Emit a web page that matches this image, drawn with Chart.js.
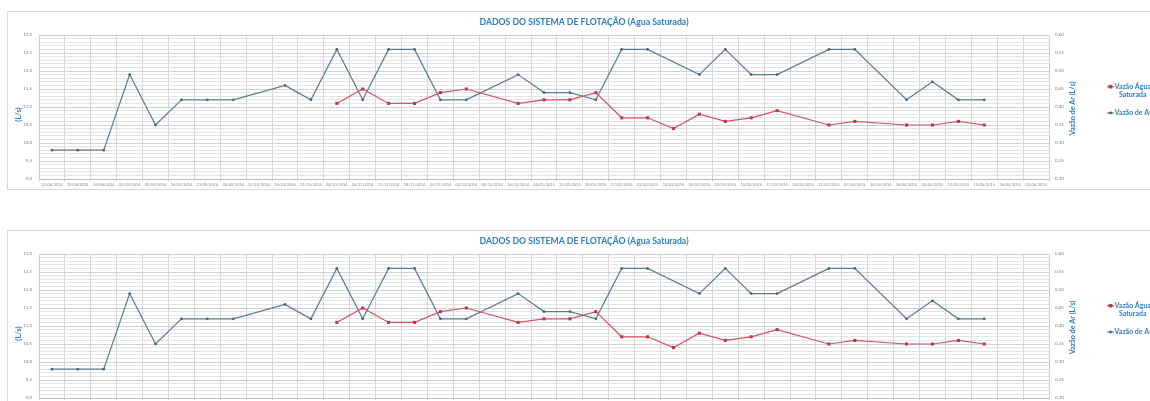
<!DOCTYPE html>
<html>
<head>
<meta charset="utf-8">
<script src="https://cdn.jsdelivr.net/npm/chart.js@4.4.1/dist/chart.umd.min.js"></script>
<style>
  html, body { margin: 0; padding: 0; background: #ffffff; overflow: hidden; width: 1150px; height: 401px; }
  .box { position: absolute; left: 7px; width: 1152px; height: 177px; border: 1px solid #d9d9d9; background: #fff; }
  .box canvas { display: block; }
</style>
</head>
<body>
<div class="box" style="top:11px"><canvas id="c1" width="1152" height="177"></canvas></div>
<div class="box" style="top:230px"><canvas id="c2" width="1152" height="177"></canvas></div>
<script>
// Collection dates (x axis)
const datas = [
  "12/08/2014","19/08/2014","26/08/2014","02/09/2014","09/09/2014","16/09/2014","23/09/2014","30/09/2014",
  "07/10/2014","14/10/2014","21/10/2014","28/10/2014","04/11/2014","11/11/2014","18/11/2014","25/11/2014",
  "02/12/2014","09/12/2014","16/12/2014","06/01/2015","13/01/2015","20/01/2015","27/01/2015","03/02/2015",
  "10/02/2015","24/02/2015","03/03/2015","10/03/2015","17/03/2015","24/03/2015","31/03/2015","07/04/2015",
  "14/04/2015","28/04/2015","05/05/2015","12/05/2015","19/05/2015","26/05/2015","02/06/2015"
];

// Saturated water flow (L/s) - left axis
const vazaoAgua = [
  null, null, null, null, null, null, null, null, null, null, null,
  11.1, 11.5, 11.1, 11.1, 11.4, 11.5, null, 11.1, 11.2, 11.2, 11.4,
  10.7, 10.7, 10.4, 10.8, 10.6, 10.7, 10.9, null, 10.5, 10.6, null,
  10.5, 10.5, 10.6, 10.5, null, null
];

// Air flow (L/s) - right axis
const vazaoAr = [
  0.28, 0.28, 0.28, 0.49, 0.35, 0.42, 0.42, 0.42, null, 0.46, 0.42,
  0.56, 0.42, 0.56, 0.56, 0.42, 0.42, null, 0.49, 0.44, 0.44, 0.42,
  0.56, 0.56, null, 0.49, 0.56, 0.49, 0.49, null, 0.56, 0.56, null,
  0.42, 0.47, 0.42, 0.42, null, null
];

const titulo = "DADOS DO SISTEMA DE FLOTAÇÃO (Agua Saturada)";
const tituloEixoEsq = "(L/s)";
const tituloEixoDir = "Vazão de Ar (L/s)";
const nomeAgua = ["Vazão Água", "Saturada"];
const nomeAr = "Vazão de Ar";

const AZUL_TEXTO = "#2f7cc0";
const COR_AGUA = "#d2546a";
const MARCA_AGUA = "#b53a52";
const COR_AR = "#5a7d92";
const MARCA_AR = "#4a6478";
const FONTE = "Lato, 'Open Sans', sans-serif";

const virgula = (v, d) => v.toFixed(d).replace(".", ",");

// axis titles and legend drawn on the canvas
const decoracao = {
  id: "decoracao",
  afterDraw(chart) {
    const { ctx, chartArea: a } = chart;
    ctx.save();
    ctx.fillStyle = AZUL_TEXTO;
    ctx.textAlign = "center";
    ctx.textBaseline = "middle";

    ctx.font = "bold 7.5px " + FONTE;
    ctx.save();
    ctx.translate(a.left - 20, (a.top + a.bottom) / 2 + 7.5);
    ctx.rotate(-Math.PI / 2);
    ctx.fillText(tituloEixoEsq, 0, 0);
    ctx.restore();

    ctx.font = "bold 7.2px " + FONTE;
    ctx.save();
    ctx.translate(a.right + 23.5, (a.top + a.bottom) / 2 + 1.5);
    ctx.rotate(-Math.PI / 2);
    ctx.fillText(tituloEixoDir, 0, 0);
    ctx.restore();

    // legend
    const lx = a.right + 58;
    const y1 = a.top + 51.7;
    const y2 = a.top + 78;
    ctx.lineWidth = 1.2;
    ctx.strokeStyle = COR_AGUA;
    ctx.beginPath(); ctx.moveTo(lx, y1); ctx.lineTo(lx + 7, y1); ctx.stroke();
    ctx.fillStyle = MARCA_AGUA;
    ctx.fillRect(lx + 1.7, y1 - 1.8, 3.6, 3.6);
    ctx.strokeStyle = COR_AR;
    ctx.beginPath(); ctx.moveTo(lx, y2); ctx.lineTo(lx + 7, y2); ctx.stroke();
    ctx.fillStyle = MARCA_AR;
    ctx.beginPath(); ctx.arc(lx + 3.5, y2, 1.4, 0, Math.PI * 2); ctx.fill();

    ctx.fillStyle = AZUL_TEXTO;
    ctx.font = "bold 7px " + FONTE;
    ctx.textAlign = "left";
    const tx = lx + 7.5;
    ctx.fillText(nomeAgua[0], tx, y1);
    const w = ctx.measureText(nomeAgua[0]).width;
    ctx.textAlign = "center";
    ctx.fillText(nomeAgua[1], tx + w / 2, y1 + 8.5);
    ctx.textAlign = "left";
    ctx.fillText(nomeAr, tx, y2);
    ctx.restore();
  }
};

function ehMeio(v) { return Math.abs(v * 2 - Math.round(v * 2)) < 1e-6; }

function criarGrafico(id) {
  return new Chart(document.getElementById(id), {
    type: "line",
    data: {
      labels: datas,
      datasets: [
        {
          label: nomeAgua.join(" "),
          data: vazaoAgua,
          yAxisID: "y",
          borderColor: COR_AGUA,
          backgroundColor: MARCA_AGUA,
          borderWidth: 1.2,
          pointStyle: "rect",
          pointRadius: 2.2,
          pointBorderWidth: 0,
          pointBackgroundColor: MARCA_AGUA,
          spanGaps: true,
          tension: 0
        },
        {
          label: nomeAr,
          data: vazaoAr,
          yAxisID: "y1",
          borderColor: COR_AR,
          backgroundColor: MARCA_AR,
          borderWidth: 1.2,
          pointStyle: "circle",
          pointRadius: 1.4,
          pointBorderWidth: 0,
          pointBackgroundColor: MARCA_AR,
          spanGaps: true,
          tension: 0
        }
      ]
    },
    options: {
      responsive: false,
      animation: false,
      events: [],
      layout: { padding: 0 },
      plugins: {
        legend: { display: false },
        tooltip: { enabled: false },
        title: {
          display: true,
          text: titulo,
          color: AZUL_TEXTO,
          font: { family: FONTE, size: 8.7, weight: "bold", lineHeight: 1.2 },
          padding: { top: 5.2, bottom: 7.36 }
        }
      },
      scales: {
        x: {
          type: "category",
          offset: true,
          grid: { offset: true, color: "#d4d4d4", lineWidth: 1, drawTicks: true, tickLength: 2 },
          border: { color: "#bfbfbf" },
          ticks: {
            autoSkip: false, maxRotation: 0, minRotation: 0,
            color: "#8a8a8a", padding: 1.5,
            font: { family: FONTE, size: 3.9 }
          },
          afterFit(s) { s.height = 10; }
        },
        y: {
          type: "linear",
          position: "left",
          min: 9, max: 13,
          grid: {
            drawTicks: false,
            color: (c) => ehMeio(c.tick.value) ? "#d0d0d0" : "#e4e4e4",
            lineWidth: 1
          },
          border: { color: "#d0d0d0" },
          ticks: {
            stepSize: 0.1, maxTicksLimit: 100, autoSkip: false, padding: 7,
            color: "#7f7f7f",
            font: { family: FONTE, size: 4.5 },
            callback: (v) => ehMeio(v) ? virgula(v, 1) : ""
          },
          afterFit(s) { s.width = 31; }
        },
        y1: {
          type: "linear",
          position: "right",
          min: 0.2, max: 0.6,
          grid: { drawOnChartArea: false, drawTicks: false },
          border: { color: "#d0d0d0" },
          ticks: {
            stepSize: 0.05, autoSkip: false, padding: 6,
            color: "#7f7f7f",
            font: { family: FONTE, size: 4.5 },
            callback: (v) => virgula(v, 2)
          },
          afterFit(s) { s.width = 111; }
        }
      }
    },
    plugins: [decoracao]
  });
}

criarGrafico("c1");
criarGrafico("c2");
</script>
</body>
</html>
